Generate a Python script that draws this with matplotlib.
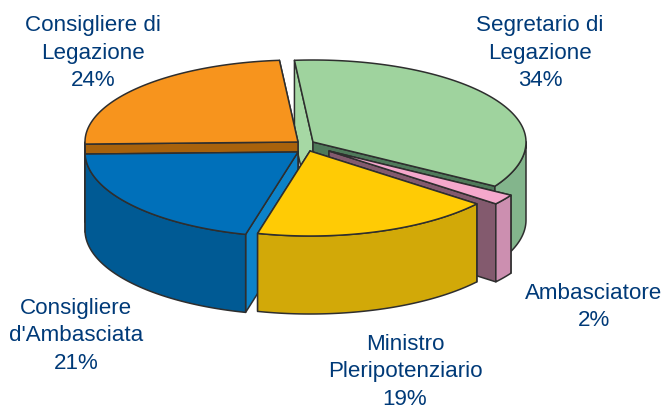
import numpy as np
import matplotlib
matplotlib.use("Agg")
import matplotlib.pyplot as plt
from matplotlib.patches import Polygon

plt.rcParams["font.family"] = ["Liberation Sans", "DejaVu Sans"]

# Dati del grafico
categorie = ["Segretario di\nLegazione", "Ambasciatore", "Ministro\nPleripotenziario",
             "Consigliere\nd'Ambasciata", "Consigliere di\nLegazione"]
valori = [34, 2, 19, 21, 24]

# Colori: superficie, lato esterno, taglio iniziale, taglio finale
col_top = ["#9FD39E", "#F5A8CC", "#FFCB05", "#0070BA", "#F7941D"]
col_lato = ["#83B58C", "#CC8FB0", "#D2A908", "#005A94", "#A8620C"]
col_ini = ["#A6D8A4", "#CC8FB0", "#D2A908", "#0C82C8", "#A8620C"]
col_fin = ["#4F7A5A", "#835A6E", "#D2A908", "#005A94", "#A8620C"]

# Geometria della torta in pixel
RX = 213
RY_DIETRO, RY_DAVANTI = 82, 85
ALTEZZA = 78
INIZIO = -5.0
CENTRI = [(313, 143), (329, 152), (310, 152), (298, 153), (298, 143)]
ORDINE = [0, 1, 4, 3, 2]  # dal fondo verso il davanti
POS_TESTO = [(540, 53), (594, 307), (405, 372), (76, 336), (93, 53)]
BORDO = "#2E2E2E"
TESTO = "#003A78"

fig, ax = plt.subplots(figsize=(6.66, 4.06), dpi=100)
ax.set_position([0, 0, 1, 1])
ax.set_xlim(0, 666)
ax.set_ylim(406, 0)
ax.axis("off")


def prospettiva(t):
    # la prospettiva allarga leggermente il settore verso destra
    return t + 4 * np.maximum(0, np.sin(np.pi * (t - INIZIO) / 220))


def arco(centro, t0, t1):
    t = np.radians(prospettiva(np.linspace(t0, t1, 100)))
    ry = np.where(np.cos(t) > 0, RY_DIETRO, RY_DAVANTI)
    return np.column_stack([centro[0] + RX * np.sin(t), centro[1] - ry * np.cos(t)])


def faccia(punti, colore, z):
    ax.add_patch(Polygon(punti, closed=True, facecolor=colore, edgecolor=BORDO,
                         linewidth=1.1, joinstyle="round", zorder=z))


giu = np.array([0, ALTEZZA])
cum = INIZIO + np.cumsum([0] + valori) / sum(valori) * 360

for z, i in enumerate(ORDINE):
    c = np.array(CENTRI[i])
    t0, t1 = cum[i], cum[i + 1]
    bordo = arco(c, t0, t1)
    base = z * 10
    # tagli radiali: per ultimo quello che arriva piu in basso
    a, b = bordo[0], bordo[-1]
    tagli = [(a, col_ini[i]), (b, col_fin[i])]
    tagli.sort(key=lambda p: p[0][1])
    for n, (p, col) in enumerate(tagli):
        faccia([c, p, p + giu, c + giu], col, base + 1 + n)
    # lato esterno, solo la parte rivolta verso chi guarda
    v0, v1 = max(t0, 86), min(t1, 270)
    if v1 > v0:
        lato = arco(c, v0, v1)
        faccia(np.vstack([lato, (lato + giu)[::-1]]), col_lato[i], base + 3)
    # superficie
    faccia(np.vstack([c, bordo]), col_top[i], base + 4)

for nome, val, (x, y) in zip(categorie, valori, POS_TESTO):
    ax.text(x, y, f"{nome}\n{val}%", ha="center", va="center", fontsize=16.1,
            color=TESTO, linespacing=1.38, zorder=100)

fig.savefig("out.png", dpi=100)
